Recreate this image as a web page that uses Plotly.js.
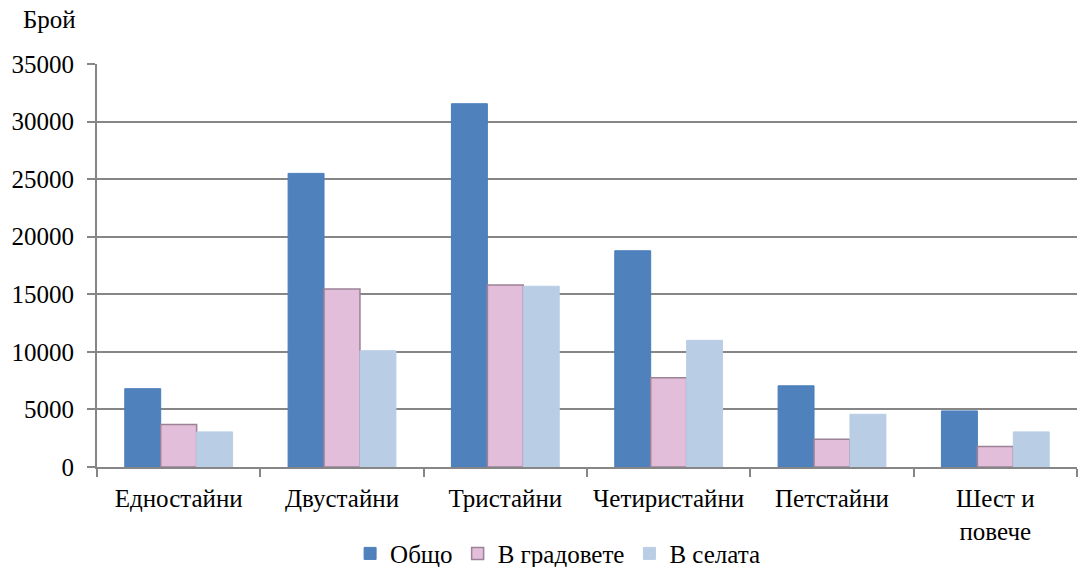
<!DOCTYPE html>
<html><head><meta charset="utf-8">
<script src="https://cdn.plot.ly/plotly-3.0.1.min.js"></script>
<style>html,body{margin:0;padding:0;background:#fff}#chart{width:1084px;height:567px}</style>
</head><body><div id="chart"></div>
<script>
const categories = ["Едностайни", "Двустайни", "Тристайни", "Четиристайни", "Петстайни", "Шест и<br>повече"];
const obshto = [6800, 25500, 31550, 18780, 7050, 4870];
const gradove = [3700, 15450, 15800, 7750, 2400, 1780];
const sela = [3050, 10100, 15700, 11000, 4580, 3050];
const seriesNames = ["Общо", "В градовете", "В селата"];
const yTicks = [0, 5000, 10000, 15000, 20000, 25000, 30000, 35000];

const font = {family: "Liberation Serif", size: 25, color: "#000"};
const traces = [
  {type: "bar", name: seriesNames[0], x: categories, y: obshto,
   marker: {color: "#4F81BD", line: {color: "#4A7EBB", width: 1}}},
  {type: "bar", name: seriesNames[1], x: categories, y: gradove,
   marker: {color: "#E2BEDA", line: {color: "#9C8297", width: 1.5}}},
  {type: "bar", name: seriesNames[2], x: categories, y: sela,
   marker: {color: "#B9CDE5", line: {color: "#B9CDE5", width: 1}}}
];
const layout = {
  width: 1084, height: 567,
  margin: {l: 97, r: 7, t: 64, b: 100, autoexpand: false},
  paper_bgcolor: "#fff", plot_bgcolor: "#fff",
  font: font,
  barmode: "group", bargap: 0.34, bargroupgap: 0,
  showlegend: true,
  legend: {orientation: "h", x: 0.47, xanchor: "center", y: -0.215, yanchor: "middle",
           font: font, itemwidth: 30, tracegroupgap: 0},
  xaxis: {type: "category", tickson: "boundaries", ticks: "outside", ticklen: 8,
          tickcolor: "#868686", tickwidth: 2, showline: true, linecolor: "#868686", linewidth: 2,
          showgrid: false, tickfont: font, automargin: false, tickangle: 0, ticklabelstandoff: 8},
  yaxis: {range: [0, 35000], tickvals: yTicks, ticktext: yTicks.map(String),
          ticks: "outside", ticklen: 8, tickcolor: "#868686", tickwidth: 2,
          showline: true, linecolor: "#868686", linewidth: 2,
          showgrid: true, gridcolor: "#868686", gridwidth: 2, zeroline: false,
          tickfont: font, automargin: false, ticklabelstandoff: 8},
  annotations: [{text: "Брой", xref: "paper", yref: "paper", x: -0.048, y: 1.11,
                 xanchor: "center", yanchor: "middle", showarrow: false, font: font}]
};
Plotly.newPlot("chart", traces, layout, {displayModeBar: false, staticPlot: true});
</script></body></html>
